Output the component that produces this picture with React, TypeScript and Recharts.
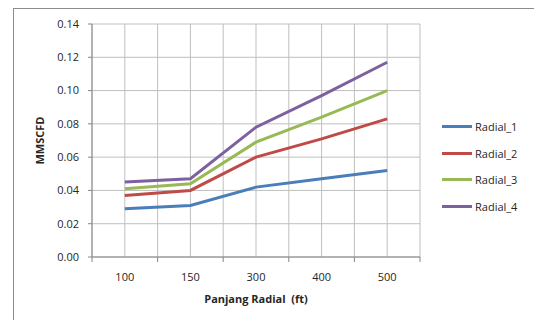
import { LineChart, Line, XAxis, YAxis, CartesianGrid, Legend } from "recharts";

const categories = ["100", "150", "300", "400", "500"];
const radial1 = [0.029, 0.031, 0.042, 0.047, 0.052];
const radial2 = [0.037, 0.04, 0.06, 0.071, 0.083];
const radial3 = [0.041, 0.044, 0.069, 0.084, 0.1];
const radial4 = [0.045, 0.047, 0.078, 0.097, 0.117];
const yTicks = [0, 0.02, 0.04, 0.06, 0.08, 0.1, 0.12, 0.14];

const series = [
  { key: "Radial_1", color: "#4a7ebb" },
  { key: "Radial_2", color: "#be4b48" },
  { key: "Radial_3", color: "#98b954" },
  { key: "Radial_4", color: "#7d60a0" },
];

const data = categories.map((c, i) => ({
  idx: i,
  name: c,
  Radial_1: radial1[i],
  Radial_2: radial2[i],
  Radial_3: radial3[i],
  Radial_4: radial4[i],
}));

// ticks at category centres and boundaries (for the grid)
const xTicks: number[] = [];
for (let i = 0; i <= categories.length * 2; i++) xTicks.push(-0.5 + i * 0.5);

const FONT = "'Open Sans', sans-serif";
const TICK_SIZE = 5;
const TICK_MARGIN = 11;

const XTick = (props: any) => {
  const { x, y, payload } = props;
  const v = payload.value;
  if (Number.isInteger(v)) {
    return (
      <text x={x} y={y} dy="0.71em" textAnchor="middle" fill="#262626" fontSize={11} fontFamily={FONT}>
        {categories[v]}
      </text>
    );
  }
  const axisY = y - TICK_SIZE - TICK_MARGIN;
  return <line x1={x} x2={x} y1={axisY} y2={axisY + TICK_SIZE} stroke="#868686" />;
};

const LegendContent = ({ payload }: any) => (
  <div style={{ fontFamily: FONT, fontSize: 11, color: "#262626", width: 90 }}>
    {payload.map((p: any) => (
      <div key={p.value} style={{ display: "flex", alignItems: "center", height: 26.7 }}>
        <span style={{ display: "inline-block", width: 30, height: 3, background: p.color, marginRight: 3 }} />
        <span>{p.value}</span>
      </div>
    ))}
  </div>
);

export default function App() {
  return (
    <div style={{ position: "absolute", left: 0, top: 0, width: 534, height: 320, background: "#fff", overflow: "hidden" }}>
      <div style={{ position: "absolute", left: 13, top: 8, width: 600, height: 400, border: "1px solid #8c8c8c" }} />
      <div style={{ position: "absolute", left: 0, top: 0 }}>
        <LineChart width={534} height={320} data={data} margin={{ top: 24, right: 24, left: 0, bottom: 0 }}>
          <CartesianGrid stroke="#bfbfbf" strokeWidth={1} />
          <XAxis
            dataKey="idx"
            type="number"
            domain={[-0.5, categories.length - 0.5]}
            ticks={xTicks}
            interval={0}
            height={63}
            tickLine={false}
            tickSize={TICK_SIZE}
            tickMargin={TICK_MARGIN}
            tick={<XTick />}
            axisLine={{ stroke: "#868686" }}
            label={{ value: "Panjang Radial \u00a0(ft)", position: "insideBottom", offset: 17, fill: "#262626", fontSize: 11, fontWeight: "bold", fontFamily: FONT }}
          />
          <YAxis
            domain={[0, 0.14]}
            ticks={yTicks}
            width={92}
            tickFormatter={(v: number) => v.toFixed(2)}
            tickSize={4}
            tickMargin={9}
            tick={{ fill: "#262626", fontSize: 11, fontFamily: FONT }}
            tickLine={{ stroke: "#868686" }}
            axisLine={{ stroke: "#868686" }}
            label={{ value: "MMSCFD", angle: -90, position: "insideLeft", offset: 40, fill: "#262626", fontSize: 11, fontWeight: "bold", fontFamily: FONT, style: { textAnchor: "middle" } }}
          />
          <Legend
            layout="vertical"
            align="right"
            verticalAlign="top"
            content={<LegendContent />}
            wrapperStyle={{ left: 442, top: 113, width: 90 }}
          />
          {series.map((s) => (
            <Line
              key={s.key}
              dataKey={s.key}
              stroke={s.color}
              strokeWidth={3}
              dot={false}
              type="linear"
              isAnimationActive={false}
            />
          ))}
        </LineChart>
      </div>
    </div>
  );
}
